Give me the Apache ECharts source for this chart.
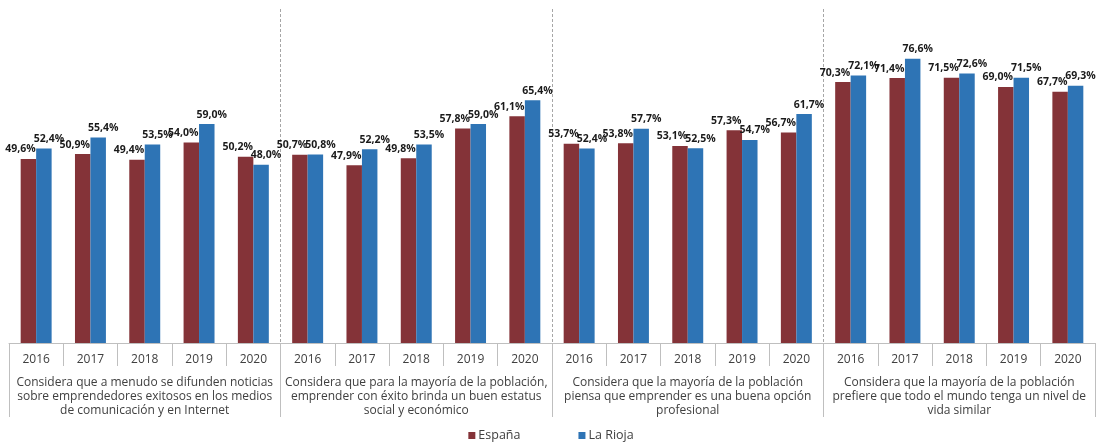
<!DOCTYPE html>
<html><head><meta charset="utf-8">
<script src="https://cdn.jsdelivr.net/npm/echarts@6/dist/echarts.min.js"></script>
<style>html,body{margin:0;padding:0;background:#fff}#c{width:1102px;height:443px}</style>
</head><body><div id="c"></div>
<script>
const years = ['2016','2017','2018','2019','2020'];
const groups = [
  'Considera que a menudo se difunden noticias\nsobre emprendedores exitosos en los medios\nde comunicación y en Internet',
  'Considera que para la mayoría de la población,\nemprender con éxito brinda un buen estatus\nsocial y económico',
  'Considera que la mayoría de la población\npiensa que emprender es una buena opción\nprofesional',
  'Considera que la mayoría de la población\nprefiere que todo el mundo tenga un nivel de\nvida similar'
];
const espana = [49.6, 50.9, 49.4, 54.0, 50.2,  50.7, 47.9, 49.8, 57.8, 61.1,  53.7, 53.8, 53.1, 57.3, 56.7,  70.3, 71.4, 71.5, 69.0, 67.7];
const rioja  = [52.4, 55.4, 53.5, 59.0, 48.0,  50.8, 52.2, 53.5, 59.0, 65.4,  52.4, 57.7, 52.5, 54.7, 61.7,  72.1, 76.6, 72.6, 71.5, 69.3];

const categories = [];
groups.forEach(() => years.forEach(y => categories.push(y)));
const fmt = p => p.value.toFixed(1).replace('.', ',') + '%';
const FONT = '"Open Sans", sans-serif';

const chart = echarts.init(document.getElementById('c'));
chart.setOption({
  animation: false,
  textStyle: { fontFamily: FONT },
  grid: { left: 9, right: 7, top: 9, bottom: 100, containLabel: false },
  legend: {
    top: 429, left: 'center', padding: 0, itemWidth: 7, itemHeight: 7, itemGap: 58, icon: 'rect',
    textStyle: { fontSize: 12.5, color: '#404040', fontFamily: FONT, padding: [0, 0, 0, -2] },
    data: ['España', 'La Rioja']
  },
  xAxis: [
    {
      type: 'category', data: categories, position: 'bottom',
      axisLine: { lineStyle: { color: '#BFBFBF', width: 1 } },
      axisTick: { show: true, length: 23, interval: 0, lineStyle: { color: '#BFBFBF' } },
      axisLabel: { interval: 0, margin: 11, fontSize: 12, color: '#404040', fontFamily: FONT }
    },
    {
      type: 'category', data: groups, position: 'bottom',
      axisLine: { show: false },
      axisTick: { show: true, length: 74, interval: 0, lineStyle: { color: '#BFBFBF' } },
      axisLabel: { interval: 0, margin: 33, fontSize: 12, color: '#404040', lineHeight: 14, fontFamily: FONT, align: 'center' }
    },
    {
      type: 'value', min: 0, max: 20, interval: 5, position: 'top',
      axisLine: { show: false }, axisTick: { show: false }, axisLabel: { show: false },
      splitLine: { show: true, showMinLine: false, showMaxLine: false, lineStyle: { color: '#A6A6A6', type: [3, 2], width: 1 } }
    }
  ],
  yAxis: {
    type: 'value', min: 0, max: 90, show: false, splitLine: { show: false }
  },
  series: [
    {
      name: 'España', type: 'bar', data: espana, xAxisIndex: 0,
      barGap: '0%', barCategoryGap: '43%',
      itemStyle: { color: '#843338' },
      label: { show: true, position: 'top', distance: 4, offset: [-8, 0], formatter: fmt,
        fontSize: 10.5, fontWeight: 'bold', color: '#1a1a1a', fontFamily: FONT }
    },
    {
      name: 'La Rioja', type: 'bar', data: rioja, xAxisIndex: 0,
      barGap: '0%', barCategoryGap: '43%',
      itemStyle: { color: '#2E74B5' },
      label: { show: true, position: 'top', distance: 4, offset: [5, 0], formatter: fmt,
        fontSize: 10.5, fontWeight: 'bold', color: '#1a1a1a', fontFamily: FONT }
    }
  ]
});
</script></body></html>
